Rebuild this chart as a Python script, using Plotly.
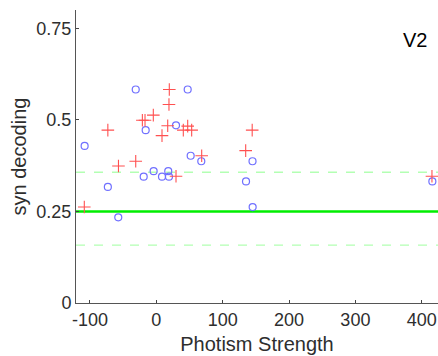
import plotly.graph_objects as go

# Data
red_x = [-108.5, -73, -57, -31, -21, -17, -4.5, 8.6, 17.2, 19.1, 19.6, 29.7, 40.7, 47.3, 53.3, 68.4, 134.7, 144.5, 415.4]
red_y = [0.262, 0.472, 0.374, 0.387, 0.499, 0.499, 0.513, 0.457, 0.484, 0.542, 0.583, 0.346, 0.472, 0.483, 0.472, 0.402, 0.416, 0.472, 0.346]

blue_x = [-108, -73, -57.3, -31, -19, -16, -4, 8.6, 18, 19.1, 29.7, 47.3, 51.8, 67.8, 135.2, 145, 145.2, 416]
blue_y = [0.429, 0.317, 0.234, 0.583, 0.345, 0.472, 0.360, 0.345, 0.360, 0.345, 0.485, 0.583, 0.402, 0.387, 0.332, 0.387, 0.262, 0.332]

chance = 0.25
upper_bound = 0.357
lower_bound = 0.158

x_range = [-121, 424.5]
y_range = [0, 0.8]
x_ticks = [-100, 0, 100, 200, 300, 400]
x_ticklabels = ["-100", "0", "100", "200", "300", "400"]
y_ticks = [0, 0.25, 0.5, 0.75]
y_ticklabels = ["0", "0.25", "0.5", "0.75"]

FONT = "Liberation Sans, Arial, sans-serif"
TXT = "#2e2e2e"

fig = go.Figure()

# reference lines
fig.add_trace(go.Scatter(x=x_range, y=[upper_bound, upper_bound], mode="lines",
                         line=dict(color="#b3ffb3", width=1.3, dash="dash"), hoverinfo="skip"))
fig.add_trace(go.Scatter(x=x_range, y=[lower_bound, lower_bound], mode="lines",
                         line=dict(color="#b3ffb3", width=1.3, dash="dash"), hoverinfo="skip"))
fig.add_trace(go.Scatter(x=x_range, y=[chance, chance], mode="lines",
                         line=dict(color="#00ee00", width=2.5), hoverinfo="skip"))

fig.add_trace(go.Scatter(x=blue_x, y=blue_y, mode="markers", cliponaxis=False,
                         marker=dict(symbol="circle-open", size=7, color="#7070ff",
                                     line=dict(width=1.2, color="#7070ff"))))
fig.add_trace(go.Scatter(x=red_x, y=red_y, mode="markers", cliponaxis=False,
                         marker=dict(symbol="cross-thin-open", size=9, color="#ff5050",
                                     line=dict(width=1.1, color="#ff5050"))))

tick_font = dict(family=FONT, size=18, color=TXT)
title_font = dict(family=FONT, size=20, color=TXT)

fig.update_layout(
    width=438, height=356,
    margin=dict(l=76, r=0, t=10, b=53, autoexpand=False),
    paper_bgcolor="white", plot_bgcolor="white",
    showlegend=False,
    font=tick_font,
    xaxis=dict(range=x_range, tickvals=x_ticks, ticktext=x_ticklabels, ticks="inside", ticklen=3,
               tickcolor="#444444", showline=True, linecolor="#555555", linewidth=1,
               showgrid=False, zeroline=False, tickfont=tick_font, automargin=False,
               title=dict(text="Photism Strength", font=title_font, standoff=8)),
    yaxis=dict(range=y_range, tickvals=y_ticks, ticktext=y_ticklabels, ticks="inside",
               ticklen=3, tickcolor="#444444", showline=True, linecolor="#555555",
               linewidth=1, showgrid=False, zeroline=False, tickfont=tick_font, automargin=False,
               title=dict(text="syn decoding", font=title_font, standoff=4)),
    annotations=[dict(text="V2", x=0.936, y=0.898, xref="paper", yref="paper",
                      xanchor="center", yanchor="middle",
                      showarrow=False, font=dict(size=20, color="black", family=FONT))],
)

fig.write_html("out.html", config={"displayModeBar": False},
               post_script="document.body.style.margin='0';")
